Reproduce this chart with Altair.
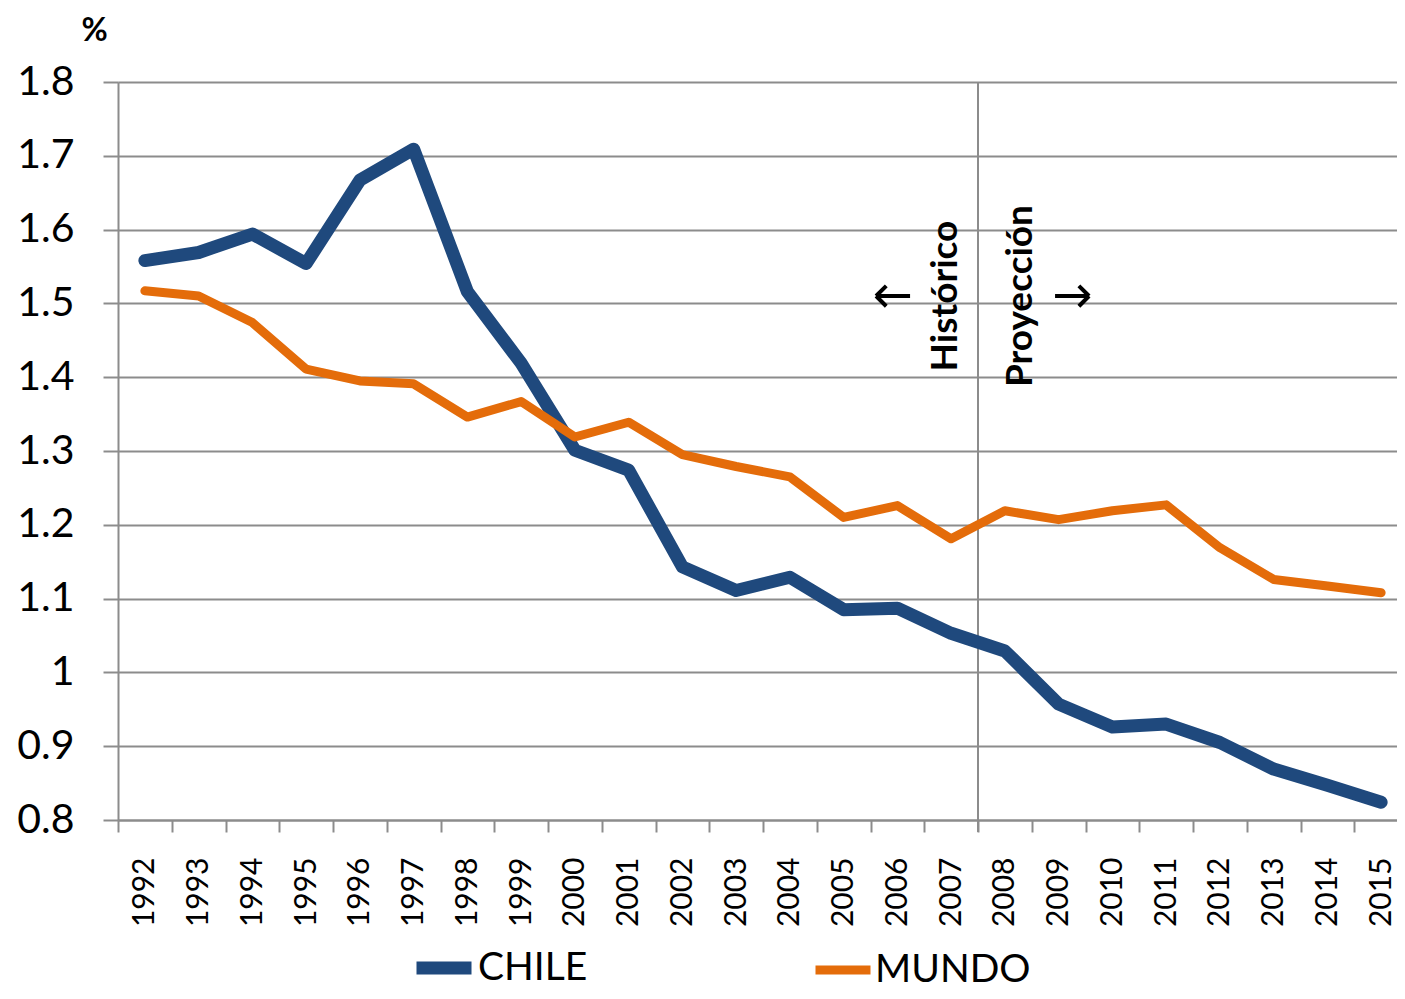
import altair as alt
import pandas as pd

years = [str(y) for y in range(1992, 2016)]
chile = [1.558, 1.569, 1.594, 1.554, 1.667, 1.709, 1.516, 1.419, 1.301, 1.274, 1.143, 1.111,
         1.129, 1.085, 1.087, 1.053, 1.029, 0.957, 0.926, 0.930, 0.905, 0.869, 0.847, 0.824]
mundo = [1.517, 1.510, 1.474, 1.411, 1.395, 1.391, 1.346, 1.367, 1.319, 1.339, 1.295, 1.279,
         1.265, 1.210, 1.226, 1.181, 1.219, 1.207, 1.219, 1.227, 1.169, 1.126, 1.117, 1.108]
series = ["CHILE", "MUNDO"]
colors = ["#1F497D", "#E46C0A"]
widths = [13, 9]
y_ticks = [0.8, 0.9, 1.0, 1.1, 1.2, 1.3, 1.4, 1.5, 1.6, 1.7, 1.8]
split_year = ["2008"]
annot_labels = ["Histórico", "Proyección"]

df = pd.DataFrame({
    "year": years * 2,
    "value": chile + mundo,
    "series": ["CHILE"] * len(years) + ["MUNDO"] * len(years),
})

GRAY = "#8c8c8c"
W, H = 1279, 738
STEP = 53.75

x_enc = alt.X(
    "year:O",
    scale=alt.Scale(range=[0, STEP * 24], paddingInner=0, paddingOuter=0),
    axis=alt.Axis(
        title=None, labelAngle=-90, labelFontSize=30, labelColor="black",
        labelFont="Lato", tickBand="extent", ticks=True, tickSize=12,
        tickColor=GRAY, tickWidth=2, domainColor=GRAY, domainWidth=2,
        labelPadding=25, grid=False,
    ),
)
y_scale = alt.Scale(domain=[0.8, 1.8], nice=False, zero=False)
y_enc = alt.Y(
    "value:Q",
    scale=y_scale,
    axis=alt.Axis(
        values=y_ticks,
        labelExpr="datum.value == 1 ? '1' : format(datum.value, '.1f')",
        labelFontSize=41, labelColor="black", labelFont="Lato",
        tickSize=15, tickColor=GRAY, tickWidth=2, labelPadding=29,
        grid=True, gridColor=GRAY, gridWidth=2,
        domainColor=GRAY, domainWidth=2,
        title="%", titleAngle=0, titleFontSize=32, titleFontWeight="bold",
        titleFont="Lato", titleColor="black",
        titleX=-24, titleY=-42, titleAlign="center", titleBaseline="alphabetic",
    ),
)

lines = alt.Chart(df).mark_line(strokeCap="round", strokeJoin="round").encode(
    x=x_enc,
    y=y_enc,
    color=alt.Color(
        "series:N",
        scale=alt.Scale(domain=series, range=colors),
        legend=alt.Legend(
            title=None, orient="none", legendX=292, legendY=852,
            direction="horizontal", symbolType="stroke", symbolSize=3025,
            symbolStrokeWidth=11, labelFontSize=39, labelFont="Lato",
            labelColor="black", labelOffset=0, columnPadding=209,
            labelLimit=0,
        ),
    ),
    strokeWidth=alt.StrokeWidth("series:N", scale=alt.Scale(domain=series, range=widths), legend=None),
    order=alt.Order("year:O"),
)

rule = alt.Chart(pd.DataFrame({"year": split_year})).mark_rule(
    color=GRAY, strokeWidth=2
).encode(
    x=alt.X("year:O", bandPosition=0),
    y=alt.value(0),
    y2=alt.value(H + 12),
)

def ann(text, year, band, yval):
    return alt.Chart(pd.DataFrame({"t": [text]})).mark_text(
        font="Lato", fontWeight="bold", fontSize=37, color="black",
        align="center", baseline="alphabetic", angle=270,
    ).encode(
        x=alt.XDatum(year, type="ordinal", bandPosition=band),
        y=alt.YDatum(yval, type="quantitative"),
        text="t:N",
    )

LEFT_ARROW = "M1,0L-1,0M-1,0L-0.4,-0.6M-1,0L-0.4,0.6"
RIGHT_ARROW = "M-1,0L1,0M1,0L0.4,-0.6M1,0L0.4,0.6"

def arrow(shape, year, band, yval):
    return alt.Chart(pd.DataFrame({"k": [0]})).mark_point(
        shape=shape, size=1156, filled=False, color="black",
        strokeWidth=4, opacity=1,
    ).encode(
        x=alt.XDatum(year, type="ordinal", bandPosition=band),
        y=alt.YDatum(yval, type="quantitative"),
    )

a1 = arrow(LEFT_ARROW, "2006", 0.42, 1.51)
a2 = ann(annot_labels[0], "2007", 0.61, 1.51)
a3 = ann(annot_labels[1], "2008", 1.0, 1.51)
a4 = arrow(RIGHT_ARROW, "2009", 0.75, 1.51)

chart = alt.layer(rule, lines, a1, a2, a3, a4).properties(
    width=W, height=H,
    autosize=alt.AutoSizeParams(type="none"),
    padding={"left": 110, "top": 74, "right": 0, "bottom": 171},
).configure_view(stroke=None).configure(font="Lato")

chart.save("out.html", embed_options={"renderer": "svg", "actions": False})
